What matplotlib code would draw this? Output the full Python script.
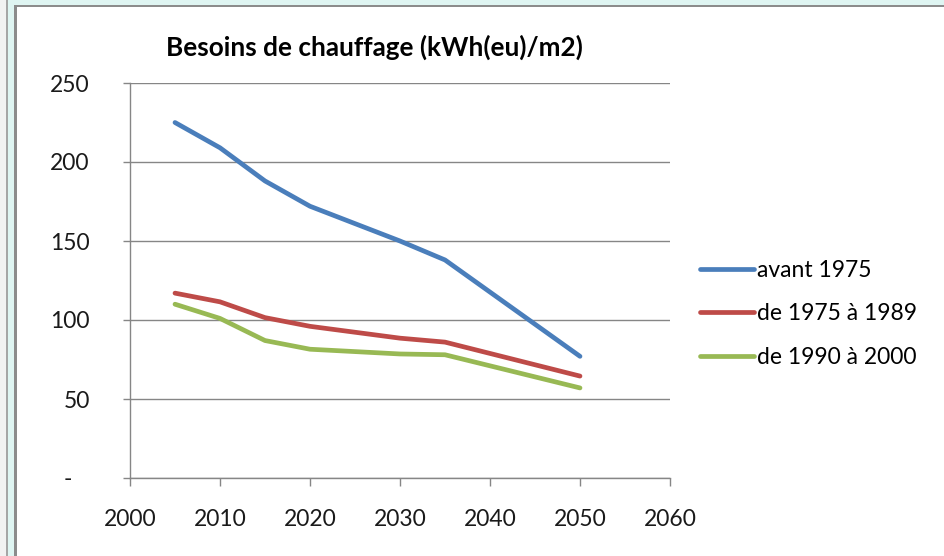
import matplotlib
matplotlib.use('Agg')
import matplotlib.pyplot as plt
from matplotlib.patches import Rectangle

# data
years = [2005, 2010, 2015, 2020, 2030, 2035, 2050]
avant_1975 = [225, 209, 188, 172, 150, 138, 77]
de_1975_1989 = [117, 111.5, 101.5, 96, 88.5, 86, 64.5]
de_1990_2000 = [110, 101, 87, 81.5, 78.5, 78, 57]
series_names = ["avant 1975", "de 1975 à 1989", "de 1990 à 2000"]
series_colors = ['#4a7ebb', '#be4b48', '#98b954']
y_ticks = [0, 50, 100, 150, 200, 250]
y_labels = ['-   ', '50', '100', '150', '200', '250']
x_ticks = [2000, 2010, 2020, 2030, 2040, 2050, 2060]

plt.rcParams['font.family'] = ['Lato', 'DejaVu Sans']

W, H = 944, 556
fig = plt.figure(figsize=(W / 100, H / 100), dpi=100)
fig.patch.set_facecolor('white')

# window frame around the chart (pixel boxes -> figure fraction)
def box(x0, y0, x1, y1, color):
    fig.patches.append(Rectangle((x0 / W, 1 - y1 / H), (x1 - x0) / W, (y1 - y0) / H,
                                 transform=fig.transFigure, facecolor=color,
                                 edgecolor='none', zorder=-5))

box(0, 0, W, 5, '#dff5f2')
box(0, 0, 6, H, '#f2f2f2')
box(6, 0, 8, H, '#a6a6a6')
box(8, 0, 14, H, '#dff5f2')
box(14, 5, W, 7, '#8c8c8c')
box(14, 5, 17, H, '#8c8c8c')

ax = fig.add_axes([130 / W, 78 / H, 540 / W, 395 / H])
for vals, name, col in zip([avant_1975, de_1975_1989, de_1990_2000], series_names, series_colors):
    ax.plot(years, vals, color=col, lw=3.4, label=name, solid_capstyle='round',
            solid_joinstyle='round')

ax.set_xlim(2000, 2060)
ax.set_ylim(0, 250)
ax.set_xticks(x_ticks)
ax.set_yticks(y_ticks)
ax.set_yticklabels(y_labels)
ax.yaxis.grid(True, color='#868686', lw=1)
ax.set_axisbelow(True)
for s in ['top', 'right']:
    ax.spines[s].set_visible(False)
for s in ['left', 'bottom']:
    ax.spines[s].set_color('#868686')
    ax.spines[s].set_linewidth(1)
ax.tick_params(axis='y', length=5, width=1, color='#868686', pad=24,
               labelsize=16.5, labelcolor='#1a1a1a')
ax.tick_params(axis='x', length=6, width=1, color='#868686', pad=16,
               labelsize=16.5, labelcolor='#1a1a1a')

fig.text(374 / W, 1 - 47 / H, "Besoins de chauffage (kWh(eu)/m2)", ha='center',
         va='center', fontsize=18.8, fontweight='bold', color='black')

ax.legend(loc='center left', bbox_to_anchor=(700 / W, 1 - 314 / H),
          bbox_transform=fig.transFigure, frameon=False, fontsize=16.5,
          handlelength=2.35, handletextpad=0.15, labelspacing=1.0,
          borderaxespad=0, borderpad=0)

fig.savefig('out.png', dpi=100)
